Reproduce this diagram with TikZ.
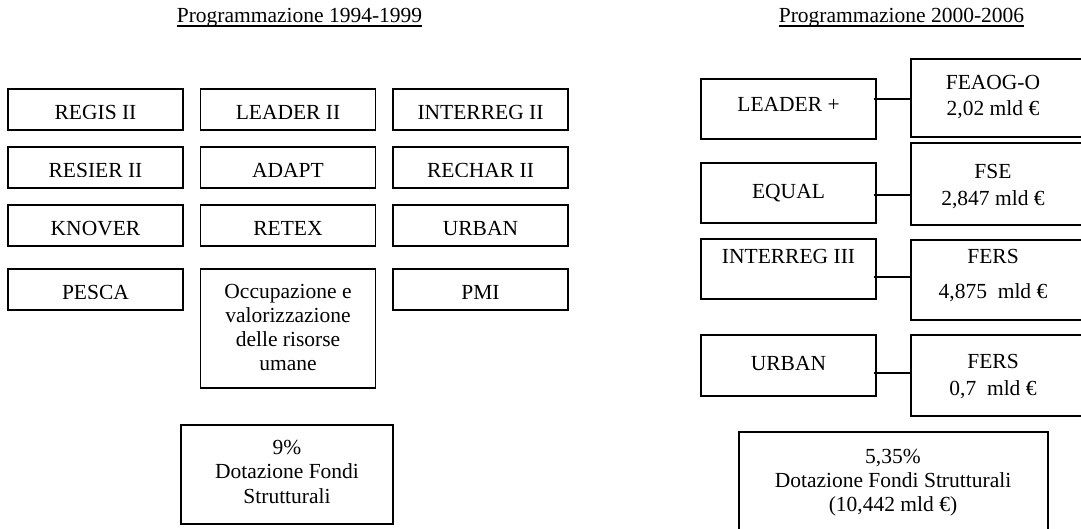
\documentclass[tikz,border=0pt]{standalone}
\usepackage{fontspec}
\setmainfont{Liberation Serif}
\begin{document}
\begin{tikzpicture}[x=1pt,y=-1pt,
  box/.style={draw, line width=1.1pt, inner sep=0pt, minimum width=175pt},
  txt/.style={anchor=base, inner sep=0pt, align=center, font=\fontsize{21.5}{24}\selectfont},
  link/.style={line width=1.1pt},
  uline/.style={line width=1.3pt}]
\useasboundingbox (0,0) rectangle (1081,528);

% ---- headings ----
\node[txt] (h1) at (299.5,22.7) {Programmazione 1994-1999};
\node[txt] (h2) at (901.5,22.7) {Programmazione 2000-2006};
\draw[uline] ([yshift=-3.4pt]h1.base west) -- ([yshift=-3.4pt]h1.base east);
\draw[uline] ([yshift=-3.4pt]h2.base west) -- ([yshift=-3.4pt]h2.base east);

% ---- 1994-1999 initiatives ----
\node[box, minimum height=41pt] (b11) at (95.5,109.5) {};
\node[box, minimum height=41pt] (b12) at (288,109.5) {};
\node[box, minimum height=41pt] (b13) at (480.5,109.5) {};
\node[box, minimum height=41pt] (b21) at (95.5,167.5) {};
\node[box, minimum height=41pt] (b22) at (288,167.5) {};
\node[box, minimum height=41pt] (b23) at (480.5,167.5) {};
\node[box, minimum height=41pt] (b31) at (95.5,225.5) {};
\node[box, minimum height=41pt] (b32) at (288,225.5) {};
\node[box, minimum height=41pt] (b33) at (480.5,225.5) {};
\node[box, minimum height=41pt] (b41) at (95.5,289.5) {};
\node[box, minimum height=119pt] (b42) at (288,328.5) {};
\node[box, minimum height=41pt] (b43) at (480.5,289.5) {};

% labels whose lower edge is cut off by the text frame
\begin{scope}
  \clip (0,95) rectangle (580,118.6);
  \node[txt] (t11) at (95.5,119.6) {REGIS II};
  \node[txt] (t12) at (288,119.6) {LEADER II};
  \node[txt] (t13) at (480.5,119.6) {INTERREG II};
\end{scope}
\begin{scope}
  \clip (0,152) rectangle (580,176.6);
  \node[txt] (t21) at (95.5,177.6) {RESIER II};
  \node[txt] (t22) at (288,177.6) {ADAPT};
  \node[txt] (t23) at (480.5,177.6) {RECHAR II};
\end{scope}
\node[txt] (t31) at (95.5,235) {KNOVER};
\node[txt] (t32) at (288,235) {RETEX};
\node[txt] (t33) at (480.5,235) {URBAN};
\begin{scope}
  \clip (0,274) rectangle (580,298.6);
  \node[txt] (t41) at (95.5,299.6) {PESCA};
  \node[txt] (t43) at (480.5,299.6) {PMI};
\end{scope}
% multi-line labels: the base anchor sits on the last line
\node[txt] (t42) at (288,370) {Occupazione e\\valorizzazione\\delle risorse\\umane};

\node[box, minimum width=212pt, minimum height=99pt] (tot1) at (287,474.5) {};
\node[txt, font=\fontsize{21.5}{24.5}\selectfont] (tt1) at (287,503) {9\%\\Dotazione Fondi\\Strutturali};

% ---- 2000-2006 initiatives and funds ----
\node[box, minimum height=60pt] (p1) at (788.5,109) {};
\node[box, minimum height=60pt] (p2) at (788.5,193) {};
\node[box, minimum height=60pt] (p3) at (788.5,269) {};
\node[box, minimum height=61pt] (p4) at (788.5,365.5) {};
\node[txt] (pt1) at (788.5,111) {LEADER +};
\node[txt] (pt2) at (788.5,198) {EQUAL};
\node[txt] (pt3) at (788.5,263) {INTERREG III};
\node[txt] (pt4) at (788.5,370) {URBAN};

\node[box, minimum height=78pt] (f1) at (998.5,98) {};
\node[box, minimum height=82pt] (f2) at (998.5,184) {};
\node[box, minimum height=80pt] (f3) at (998.5,280) {};
\node[box, minimum height=81pt] (f4) at (998.5,375.5) {};
\node[txt, font=\fontsize{21.5}{26}\selectfont] (ft1) at (993,115) {FEAOG-O\\2,02 mld €};
\node[txt, font=\fontsize{21.5}{27}\selectfont] (ft2) at (993,205) {FSE\\2,847 mld €};
\node[txt, font=\fontsize{21.5}{35}\selectfont] (ft3) at (993,298) {FERS\\4,875~ mld €};
\node[txt, font=\fontsize{21.5}{27}\selectfont] (ft4) at (993,395) {FERS\\0,7~ mld €};

\coordinate (y1) at (0,99);
\coordinate (y2) at (0,195);
\coordinate (y3) at (0,277);
\coordinate (y4) at (0,373);
\draw[link] ([xshift=-3pt]p1.east |- y1) -- (f1.west |- y1);
\draw[link] ([xshift=-3pt]p2.east |- y2) -- (f2.west |- y2);
\draw[link] ([xshift=-3pt]p3.east |- y3) -- (f3.west |- y3);
\draw[link] ([xshift=-3pt]p4.east |- y4) -- (f4.west |- y4);

\node[box, minimum width=309pt, minimum height=108pt] (tot2) at (893.5,486) {};
\node[txt] (tt2) at (893,511) {5,35\%\\Dotazione Fondi Strutturali\\(10,442 mld €)};
\end{tikzpicture}
\end{document}
